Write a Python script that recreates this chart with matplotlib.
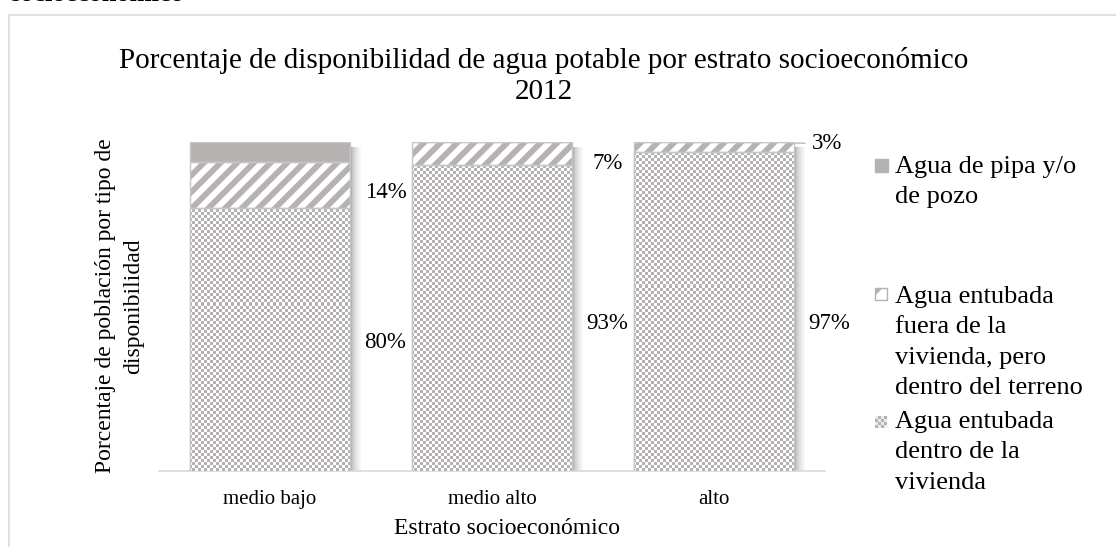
import numpy as np
import matplotlib
matplotlib.use('Agg')
import matplotlib.pyplot as plt
from matplotlib.colors import ListedColormap
from matplotlib.patches import Rectangle

plt.rcParams['font.family'] = ['Liberation Serif', 'DejaVu Serif']
plt.rcParams['hatch.linewidth'] = 4.2

# porcentajes por estrato
estratos = ['medio bajo', 'medio alto', 'alto']
dentro_vivienda = [80, 93, 97]
fuera_vivienda = [14, 7, 3]
pipa_pozo = [6, 0, 0]

series = ['Agua de pipa y/o\nde pozo',
          'Agua entubada\nfuera de la\nvivienda, pero\ndentro del terreno',
          'Agua entubada\ndentro de la\nvivienda']

gris = '#b7b2b2'
borde = '#c6c6c6'

W, H = 1116, 547
fig = plt.figure(figsize=(W / 100, H / 100), dpi=100)
ax = fig.add_axes([159 / W, 76 / H, 666 / W, 329 / H])

x = np.arange(len(estratos))
width = 0.72
d = np.array(dentro_vivienda) / 100
f = np.array(fuera_vivienda) / 100
p = np.array(pipa_pozo) / 100
total = d + f + p

# sombra a la derecha de cada columna
for k, a in enumerate([0.55, 0.42, 0.30, 0.20, 0.12, 0.06]):
    ax.bar(x + width / 2 + (k + 0.5) * 0.008, total - 0.015, width=0.008,
           color='#707070', alpha=a, linewidth=0, zorder=1)

# dentro de la vivienda: relleno de cuadritos
cell = 3
ny, nx = 329 // cell + 2, 666 // cell + 2
checker = np.add.outer(np.arange(ny), np.arange(nx)) % 2
bars_d = ax.bar(x, d, width, color='white', edgecolor=borde, linewidth=1, zorder=2)
for b in bars_d:
    im = ax.imshow(checker, cmap=ListedColormap(['white', gris]), origin='lower',
                   extent=(-0.5, -0.5 + nx * cell / 222, 0, ny * cell / 329),
                   aspect='auto', interpolation='nearest', zorder=3)
    im.set_clip_path(b)
ax.bar(x, d, width, fill=False, edgecolor=borde, linewidth=1, zorder=4)

# fuera de la vivienda: rayas diagonales
ax.bar(x, f, width, bottom=d, color='white', edgecolor=gris, hatch='//',
       linewidth=0, zorder=3)
ax.bar(x, f, width, bottom=d, fill=False, edgecolor=borde, linewidth=1, zorder=4)

# pipa / pozo: gris sólido
ax.bar(x, p, width, bottom=d + f, color=gris, edgecolor=borde, linewidth=1, zorder=3)

ax.set_xlim(-0.5, 2.5)
ax.set_ylim(0, 1)
ax.set_xticks(x)
ax.set_xticklabels(estratos, fontsize=15)
ax.tick_params(axis='x', length=0, pad=14)
ax.set_yticks([])
for s in ['top', 'left', 'right']:
    ax.spines[s].set_visible(False)
ax.spines['bottom'].set_color('#d9d9d9')
ax.spines['bottom'].set_linewidth(1.2)

# etiquetas de datos
lab_dx = 0.52
lab_y_dentro = [0.39, 0.447, 0.447]
lab_y_fuera = [0.845, 0.936, 0.994]
guia = dict(arrowstyle='-', color='#a9bed6', lw=1, shrinkB=0)
for i in range(len(estratos)):
    ax.text(x[i] + lab_dx, lab_y_dentro[i], f'{dentro_vivienda[i]}%',
            ha='center', va='center', fontsize=16.5)
    if fuera_vivienda[i] > 0:
        if lab_y_fuera[i] < total[i] - 0.01:
            ax.text(x[i] + lab_dx, lab_y_fuera[i], f'{fuera_vivienda[i]}%',
                    ha='center', va='center', fontsize=16.5)
        else:
            ax.annotate(f'{fuera_vivienda[i]}%', xy=(x[i] + width / 2, total[i] - 0.003),
                        xytext=(x[i] + lab_dx - 0.01, lab_y_fuera[i]),
                        ha='center', va='center', fontsize=16.5,
                        arrowprops=dict(guia, shrinkA=3))
    if pipa_pozo[i] > 0:
        ax.annotate(f'{pipa_pozo[i]}%', xy=(x[i], total[i] + 0.004),
                    xytext=(x[i] + lab_dx, total[i]),
                    ha='center', va='center', fontsize=16.5,
                    arrowprops=dict(guia, shrinkA=6))

# títulos
fig.text(544 / W, 1 - 76 / H,
         'Porcentaje de disponibilidad de agua potable por estrato socioeconómico\n2012',
         ha='center', va='center', fontsize=21, linespacing=1.22)
fig.text(507 / W, 1 - 528 / H, 'Estrato socioeconómico', ha='center', va='center',
         fontsize=17)
fig.text(120 / W, 1 - 306 / H, 'Porcentaje de población por tipo de\ndisponibilidad',
         rotation=90, ha='center', va='center', fontsize=17, linespacing=1.45,
         multialignment='center')

# leyenda
ley_top = [156, 286, 411]
for txt, yt in zip(series, ley_top):
    fig.text(895 / W, 1 - yt / H, txt, ha='left', va='top', fontsize=19,
             linespacing=1.49)

fig.patches.append(Rectangle((875 / W, 1 - 172 / H), 13 / W, 13 / H,
                             transform=fig.transFigure, color=gris))
fig.patches.append(Rectangle((875 / W, 1 - 300 / H), 12 / W, 12 / H,
                             transform=fig.transFigure, facecolor='white',
                             edgecolor=gris, hatch='/', linewidth=1))
icono = np.kron(np.add.outer(np.arange(4), np.arange(4)) % 2, np.ones((3, 3)))
icono = np.where(icono[..., None] > 0, np.array([183, 178, 178]), 235) / 255
fig.figimage(icono, xo=875, yo=H - 428)

# marco del gráfico
fig.patches.append(Rectangle((8.5 / W, -0.1), 1.2, (H - 14.5) / H + 0.1,
                             transform=fig.transFigure, fill=False,
                             edgecolor='#dde1e8', linewidth=1.5))
fig.text(10 / W, 1 - 1.0 / H, 'socioeconómico', fontsize=19, fontweight='bold',
         ha='left', va='baseline')

fig.savefig('out.png', dpi=100)
